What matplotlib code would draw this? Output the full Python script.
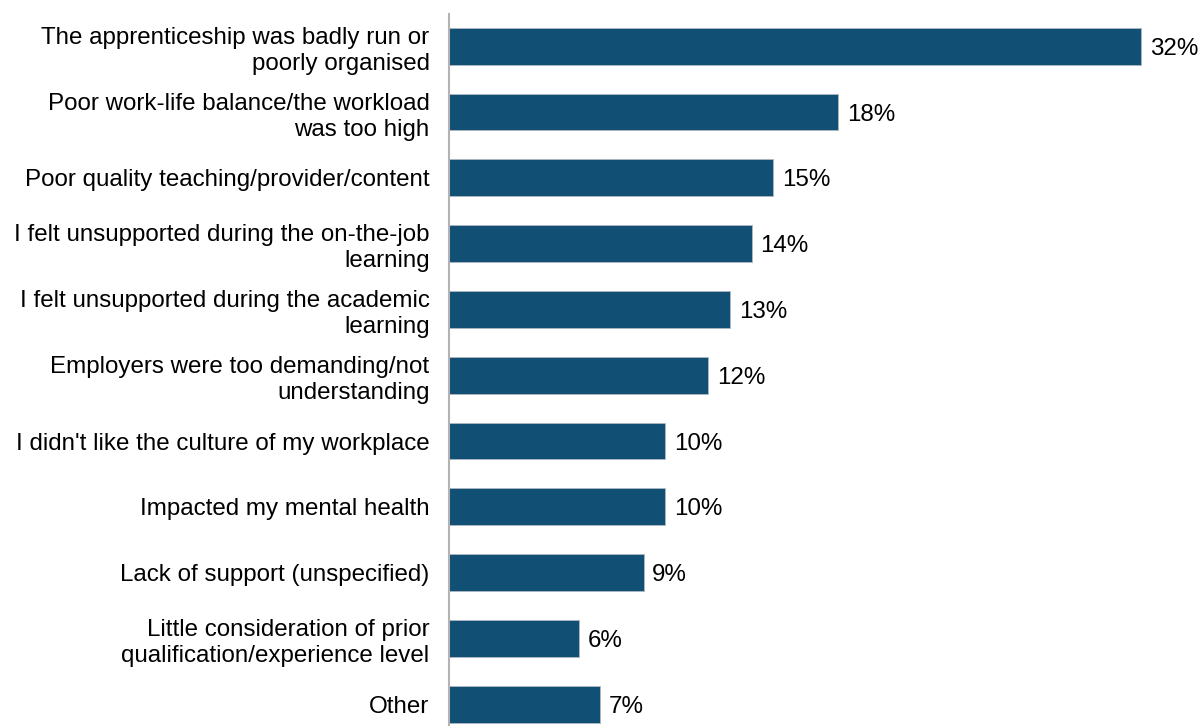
import matplotlib.pyplot as plt

plt.rcParams['font.family'] = ['Liberation Sans', 'DejaVu Sans']

categorias = [
    "The apprenticeship was badly run or\npoorly organised",
    "Poor work-life balance/the workload\nwas too high",
    "Poor quality teaching/provider/content",
    "I felt unsupported during the on-the-job\nlearning",
    "I felt unsupported during the academic\nlearning",
    "Employers were too demanding/not\nunderstanding",
    "I didn't like the culture of my workplace",
    "Impacted my mental health",
    "Lack of support (unspecified)",
    "Little consideration of prior\nqualification/experience level",
    "Other",
]
porcentajes = [32, 18, 15, 14, 13, 12, 10, 10, 9, 6, 7]

fig = plt.figure(figsize=(12, 7.26), dpi=100)
ax = fig.add_axes([449 / 1200, 0, 746 / 1200, 712 / 726])

pos = list(range(len(categorias)))
ax.barh(pos, porcentajes, height=0.56, color='#114f75',
        edgecolor='#b0b8c0', linewidth=0.6)

for y, v in zip(pos, porcentajes):
    ax.text(v + 0.4, y, f"{v}%", va='center_baseline', ha='left', fontsize=17.4)

ax.set_yticks(pos)
ax.set_yticklabels(categorias, fontsize=17.4, ha='right', linespacing=1.25)
ax.tick_params(axis='y', length=0, pad=14)
ax.set_xticks([])
ax.set_xlim(0, 34.5)
ax.set_ylim(10.33, -0.49)

for lado in ['top', 'right', 'bottom']:
    ax.spines[lado].set_visible(False)
ax.spines['left'].set_color('#b3b3b3')
ax.spines['left'].set_linewidth(1.5)

plt.savefig('out.png', dpi=100)
